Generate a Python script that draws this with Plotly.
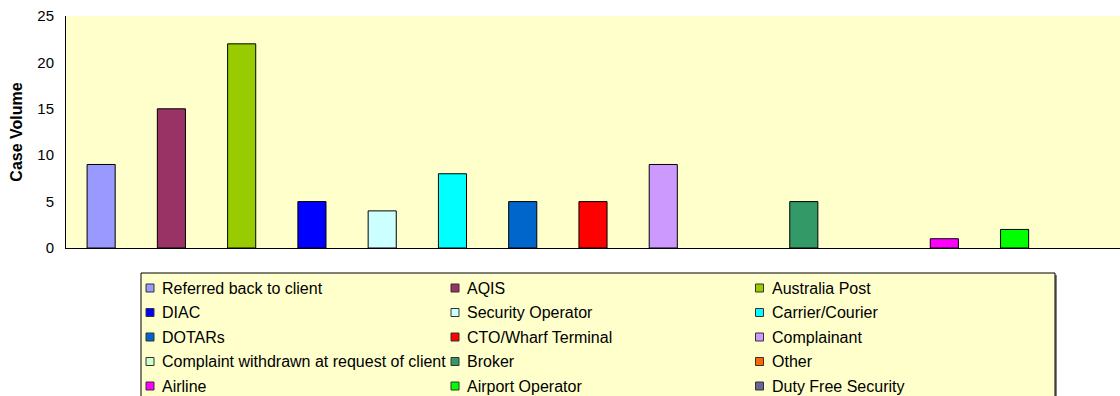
import plotly.graph_objects as go

# Case outcomes by referral destination
categories = [
    "Referred back to client", "AQIS", "Australia Post",
    "DIAC", "Security Operator", "Carrier/Courier",
    "DOTARs", "CTO/Wharf Terminal", "Complainant",
    "Complaint withdrawn at request of client", "Broker", "Other",
    "Airline", "Airport Operator", "Duty Free Security",
]
case_volume = [9, 15, 22, 5, 4, 8, 5, 5, 9, 0, 5, 0, 1, 2, 0]
colors = [
    "#9999FF", "#993366", "#99CC00",
    "#0000FF", "#CCFFFF", "#00FFFF",
    "#0066CC", "#FF0000", "#CC99FF",
    "#CCFFCC", "#339966", "#FF6600",
    "#FF00FF", "#00FF00", "#666699",
]
y_ticks = [0, 5, 10, 15, 20, 25]

W, H = 1120, 396
M_L, M_R, M_T, M_B = 66, 0, 16, 148
PLOT_W = W - M_L - M_R
PLOT_H = H - M_T - M_B
FONT = "Liberation Sans, Arial, sans-serif"
BG = "#FFFFCC"


def px_x(px):
    return (px - M_L) / PLOT_W


def px_y(py):
    return (H - M_B - py) / PLOT_H


# empty categories get no outline so nothing is drawn on the baseline
outline_w = [1 if v > 0 else 0 for v in case_volume]

fig = go.Figure(
    go.Bar(
        x=categories,
        y=case_volume,
        marker=dict(color=colors, line=dict(color="#000000", width=outline_w)),
        showlegend=False,
    )
)

# Legend panel: three columns of swatches and labels under the plot
shapes = [
    dict(type="rect", xref="paper", yref="paper", layer="above",
         x0=px_x(143), x1=px_x(1057), y0=px_y(410), y1=px_y(275),
         line=dict(width=0), fillcolor="#808080"),
    dict(type="rect", xref="paper", yref="paper", layer="above",
         x0=px_x(141), x1=px_x(1055), y0=px_y(410), y1=px_y(273),
         line=dict(color="#000000", width=1), fillcolor=BG),
]
annotations = []
col_x = [150, 455, 759.5]
row_y = [288, 312.5, 337, 361.5, 386]
half = 4
for i, (name, col) in enumerate(zip(categories, colors)):
    cx = col_x[i % 3]
    cy = row_y[i // 3]
    shapes.append(dict(
        type="rect", xref="paper", yref="paper", layer="above",
        x0=px_x(cx - half), x1=px_x(cx + half),
        y0=px_y(cy + half), y1=px_y(cy - half),
        line=dict(color="#333333", width=1), fillcolor=col,
    ))
    annotations.append(dict(
        text=name, xref="paper", yref="paper",
        x=px_x(cx + 10), y=px_y(cy), xanchor="left", yanchor="middle",
        showarrow=False, font=dict(family=FONT, size=16, color="#000000"),
    ))

fig.update_layout(
    width=W, height=H,
    margin=dict(l=M_L, r=M_R, t=M_T, b=M_B, pad=0, autoexpand=False),
    paper_bgcolor="#FFFFFF",
    plot_bgcolor=BG,
    bargap=0.6,
    font=dict(family=FONT, size=15, color="#000000"),
    shapes=shapes,
    annotations=annotations,
    xaxis=dict(
        showticklabels=False, ticks="", showgrid=False, zeroline=False,
        showline=True, linecolor="#000000", linewidth=1,
    ),
    yaxis=dict(
        range=[0, 25], tickvals=y_ticks, ticks="", showgrid=False,
        zeroline=False, showline=True, linecolor="#000000", linewidth=1,
        tickfont=dict(family=FONT, size=15, color="#000000"),
        ticklabelstandoff=8,
        title=dict(text="<b>Case Volume</b>", standoff=10,
                   font=dict(family=FONT, size=16, color="#000000")),
    ),
)

fig.write_html("out.html")
